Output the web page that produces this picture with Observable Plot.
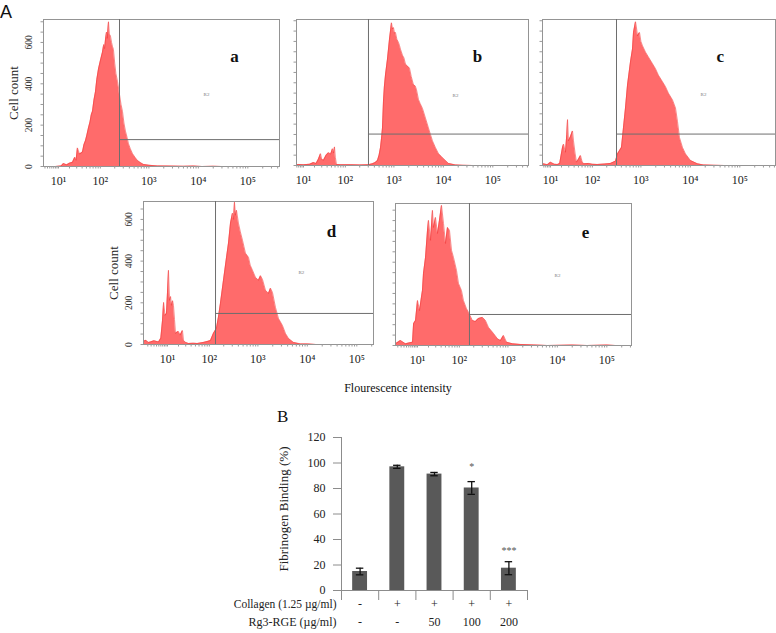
<!DOCTYPE html>
<html>
<head>
<meta charset="utf-8">
<script src="https://cdn.jsdelivr.net/npm/d3@7"></script>
<script src="https://cdn.jsdelivr.net/npm/@observablehq/plot@0.6"></script>
<style>
  html, body { margin: 0; padding: 0; background: #fff; }
  #root { position: relative; width: 776px; height: 633px; background: #fff; overflow: hidden; font-family: "Liberation Serif", "DejaVu Serif", serif; }
  .panel { position: absolute; }
  #overlay { position: absolute; left: 0; top: 0; pointer-events: none; }
</style>
</head>
<body>
<div id="root"></div>
<script>
// ---------------- DATA ----------------
// Flow cytometry histograms: [fluorescence intensity, cell count]
const histA = [[2.5,0],[8,0],[12,3],[13.9,14],[17,8],[20,16],[23.8,20],[27,45],[29,30],[31.2,90],[35,60],[40.8,70],[44,105],[47.6,124],[51,150],[55.5,186],[60,215],[64,250],[68,267],[73,320],[78.9,362],[84,420],[91.4,471],[100,510],[111,552],[118,590],[123,570],[128.5,614],[135,650],[140,620],[148.5,700],[155,640],[162.8,633],[172,600],[180,580],[188,567],[200,500],[212,450],[229,410],[240,380],[251,348],[270,300],[289,267],[310,210],[333,171],[360,140],[384,110],[420,85],[464,62],[520,45],[586,29],[680,18],[777,10],[1000,6],[1490,3],[2500,2],[5000,1],[8000,2],[12000,0],[20000,1],[30000,0],[436000,0]];
const histB = [[5.83,4],[6.9,5],[10,4],[15,6],[18.9,14],[22,10],[25,30],[28.1,57],[30,30],[33,25],[38,50],[43,62],[48,55],[52.8,81],[56,60],[58.4,90],[61,40],[64.6,5],[80,4],[128,4],[200,3],[303,4],[366,8],[420,15],[464,24],[500,50],[534,86],[560,130],[586,181],[614,310],[640,380],[675,438],[741,514],[814,610],[893,690],[940,660],[981,667],[1030,640],[1077,643],[1150,610],[1240,595],[1300,580],[1361,562],[1494,533],[1600,520],[1718,490],[1900,480],[2070,471],[2250,430],[2494,390],[2700,385],[2869,367],[3148,319],[3400,300],[3793,276],[4363,229],[5017,181],[5500,150],[6045,119],[6951,86],[7995,57],[9000,45],[10085,33],[12730,10],[17630,3],[24420,1],[40000,0],[526000,0]];
const histC = [[5.33,5],[5.8,8],[8,4],[10,16],[13,6],[15.8,5],[18,10],[21.2,87],[22.5,103],[25.1,64],[27,150],[28.1,222],[29.6,119],[33,140],[36.7,167],[38.7,119],[42,60],[45.3,16],[50,30],[55.5,48],[60,20],[64.6,8],[82.8,10],[100,6],[128,5],[180,7],[239,10],[303,21],[333,56],[402,87],[442,183],[486,278],[534,388],[614,500],[675,563],[707,643],[777,695],[820,660],[853,627],[937,643],[1000,600],[1077,579],[1240,548],[1425,524],[1718,492],[1975,468],[2272,436],[2737,405],[3148,381],[3619,349],[4363,317],[5017,278],[5500,214],[6045,135],[6951,87],[7995,56],[10085,24],[13970,8],[18460,3],[30000,1],[50000,0],[526000,0]];
const histD = [[-0.09,15],[0.5,20],[1.2,10],[1.8,12],[3,18],[4.9,12],[6,30],[6.9,115],[7.5,202],[8.4,140],[9.3,149],[10,250],[10.7,356],[11.5,212],[12.3,230],[13.1,188],[14,210],[14.8,188],[15.8,120],[16.8,53],[18.5,60],[20,62],[22,45],[25.1,67],[26.6,19],[30,10],[34.8,5],[45,6],[55.5,5],[75,10],[90,14],[105.9,19],[122,53],[141,77],[155,130],[171,197],[198,308],[229,418],[251,486],[276,582],[303,630],[320,600],[333,683],[350,620],[366,644],[402,582],[440,540],[486,500],[520,470],[559,438],[644,418],[700,380],[777,356],[893,322],[1028,308],[1130,330],[1240,312],[1425,260],[1640,245],[1800,270],[1975,250],[2272,178],[2612,125],[3148,91],[3619,53],[4165,29],[5260,10],[7285,3],[10085,3],[15000,0],[217400,0]];
const histE = [[0.39,8],[1.8,24],[3.6,8],[5,12],[6.9,16],[7.5,105],[8.7,120],[10,216],[11.5,168],[13,230],[13.9,264],[14.8,345],[16.8,423],[18.9,553],[20,601],[22.5,505],[25.1,649],[26.6,567],[29.6,615],[33,538],[36.7,601],[40.8,673],[45.3,586],[50.2,490],[55.5,567],[61.4,553],[68,457],[75,423],[87,361],[96,298],[111,264],[122,216],[141,178],[156,159],[188,120],[217,115],[251,130],[303,135],[349,120],[402,87],[509,58],[614,32],[707,24],[814,48],[937,16],[1240,8],[1800,5],[3300,3],[6335,0],[20000,2],[40000,0],[100000,2],[150000,0],[315000,0]];

const panelLetters = ["a", "b", "c", "d", "e"];
const gateX = [251, 303, 318, 135, 163];          // gate threshold (intensity)
const gateY = [130, 152, 152, 149, 149];          // marker line (count)
const xDomains = [[2.47, 436000], [5.83, 526000], [5.33, 526000], [-0.09, 217400], [0.39, 315000]];
const yMaxes = [711, 706, 706, 686, 682];
const letterPos = [[53600, 533], [49000, 528], [40500, 528], [30900, 543], [37000, 543]];
const r2Pos = [[14600, 348], [17630, 338], [18460, 343], [7600, 346], [10085, 337]];

const decadeTicks = [10, 100, 1000, 10000, 100000];
const decadeLabels = ["10¹", "10²", "10³", "10⁴", "10⁵"];
const countTicks = [0, 200, 400, 600];

// Bar chart (panel B)
const collagenRow = ["-", "+", "+", "+", "+"];
const rgeRow = ["-", "-", "50", "100", "200"];
const binding = [14.9, 97.0, 91.3, 80.4, 17.5];
const bindingErr = [2.6, 1.2, 1.3, 5.0, 5.1];
const signif = ["", "", "", "*", "***"];
const signifLevel = [0, 0, 0, 99, 33.4];
const bindingTicks = [0, 20, 40, 60, 80, 100, 120];

// ---------------- LAYOUT ----------------
const frames = [
  {L: 43, R: 279, T: 19, B: 166, yLabels: true},
  {L: 296, R: 528, T: 19, B: 165, yLabels: false},
  {L: 542, R: 775, T: 19, B: 165, yLabels: false},
  {L: 143, R: 373, T: 201, B: 344, yLabels: true},
  {L: 395, R: 631, T: 203, B: 345, yLabels: false}
];
const hists = [histA, histB, histC, histD, histE];
const root = document.getElementById("root");
const serif = "'Liberation Serif', 'DejaVu Serif', serif";

// minor ticks along the intensity axis
const minorTicks = [];
for (let k = 0; k <= 5; k++) for (let m = 1; m <= 9; m++) minorTicks.push(m * Math.pow(10, k));

hists.forEach((hist, i) => {
  const f = frames[i];
  const mL = 42, mR = 1, mT = 4, mB = 28;
  const W = f.R - f.L, H = f.B - f.T;
  const dom = xDomains[i];
  const yMax = yMaxes[i];
  const minors = minorTicks.filter(t => t > dom[0] && t < dom[1]);
  const marks = [
    Plot.areaY(hist, {x: d => d[0], y: d => d[1], fill: "#ff6b6b", curve: "linear"}),
    Plot.lineY(hist, {x: d => d[0], y: d => d[1], stroke: "#f23e3e", strokeWidth: 0.6}),
    Plot.frame({stroke: "#949494", strokeWidth: 1}),
    Plot.ruleX([gateX[i]], {stroke: "#6e6e6e", strokeWidth: 1}),
    Plot.ruleY([gateY[i]], {x1: gateX[i], x2: dom[1], stroke: "#6e6e6e", strokeWidth: 1}),
    Plot.axisX({ticks: minors, tickSize: 2.5, tickFormat: () => "", stroke: "#9a9a9a", label: null}),
    Plot.axisX({ticks: decadeTicks, tickSize: 0, tickPadding: 10, tickFormat: (d, j) => decadeLabels[j], fontSize: 12, fill: "#222", label: null}),
    Plot.axisY({ticks: d3.range(0, yMax, 50), tickSize: 2.5, tickFormat: () => "", stroke: "#9a9a9a", label: null}),
    Plot.text([letterPos[i]], {x: d => d[0], y: d => d[1], text: () => panelLetters[i], fontSize: 17, fontWeight: "bold", fill: "#111"}),
    Plot.text([r2Pos[i]], {x: d => d[0], y: d => d[1], text: () => "R2", fontSize: 5, fill: "#777"})
  ];
  if (f.yLabels) {
    marks.push(Plot.text(countTicks, {y: d => d, text: d => String(d), frameAnchor: "left", textAnchor: "middle", dx: -15, rotate: -90, fontSize: 9.5, fill: "#333"}));
    marks.push(Plot.text(["Cell count"], {text: d => d, frameAnchor: "left", textAnchor: "middle", dx: -30, rotate: -90, fontSize: 13, fill: "#222"}));
  }
  const svg = Plot.plot({
    width: W + mL + mR, height: H + mT + mB,
    marginLeft: mL, marginRight: mR, marginTop: mT, marginBottom: mB,
    x: {type: "symlog", constant: 5, domain: dom},
    y: {domain: [0, yMax]},
    style: {fontFamily: serif, background: "transparent", overflow: "visible"},
    marks
  });
  const div = document.createElement("div");
  div.className = "panel";
  div.style.left = (f.L - mL) + "px";
  div.style.top = (f.T - mT) + "px";
  div.appendChild(svg);
  root.appendChild(div);
});

// ---------------- BAR CHART ----------------
const idx = d3.range(binding.length);
const bounds = d3.range(-0.5, binding.length, 1);
const barMargins = {L: 121, R: 30, T: 36, B: 43};
const barSvg = Plot.plot({
  width: barMargins.L + 186 + barMargins.R,
  height: barMargins.T + 153 + barMargins.B,
  marginLeft: barMargins.L, marginRight: barMargins.R, marginTop: barMargins.T, marginBottom: barMargins.B,
  x: {type: "linear", domain: [-0.5, binding.length - 0.5]},
  y: {domain: [0, 120]},
  style: {fontFamily: serif, background: "transparent", overflow: "visible"},
  marks: [
    Plot.rectY(idx, {x1: i => i - 0.2, x2: i => i + 0.2, y1: 0, y2: i => binding[i], fill: "#595959"}),
    Plot.ruleX(idx, {x: i => i, y1: i => binding[i] - bindingErr[i], y2: i => binding[i] + bindingErr[i], stroke: "#111", strokeWidth: 1.3}),
    Plot.ruleY(idx, {y: i => binding[i] - bindingErr[i], x1: i => i - 0.1, x2: i => i + 0.1, stroke: "#111", strokeWidth: 1.3}),
    Plot.ruleY(idx, {y: i => binding[i] + bindingErr[i], x1: i => i - 0.1, x2: i => i + 0.1, stroke: "#111", strokeWidth: 1.3}),
    Plot.text(idx.filter(i => signif[i]), {x: i => i, y: i => signifLevel[i], text: i => signif[i], fontSize: 10, fill: "#555", dy: 3}),
    Plot.ruleX([-0.5], {stroke: "#8c8c8c"}),
    Plot.ruleY([0], {stroke: "#8c8c8c"}),
    Plot.axisX({ticks: bounds, tickSize: 10, tickFormat: () => "", stroke: "#8c8c8c", label: null}),
    Plot.axisY({ticks: bindingTicks, tickSize: 8, tickPadding: 8, fontSize: 12, stroke: "#8c8c8c", fill: "#222", label: null}),
    Plot.text(["Fibrinogen Binding (%)"], {text: d => d, frameAnchor: "left", textAnchor: "middle", dx: -58, dy: -5, rotate: -90, fontSize: 13, fill: "#222"}),
    Plot.text(idx, {x: i => i, text: i => collagenRow[i], frameAnchor: "bottom", textAnchor: "middle", dy: 17, fontSize: 12, fill: "#222"}),
    Plot.text(idx, {x: i => i, text: i => rgeRow[i], frameAnchor: "bottom", textAnchor: "middle", dy: 35, fontSize: 12, fill: "#222"}),
    Plot.text(["Collagen (1.25 µg/ml)"], {x: -0.5, text: d => d, frameAnchor: "bottom", dy: 17, dx: -5, textAnchor: "end", fontSize: 11.5, fill: "#222"}),
    Plot.text(["Rg3-RGE (µg/ml)"], {x: -0.5, text: d => d, frameAnchor: "bottom", dy: 35, dx: -5, textAnchor: "end", fontSize: 12, fill: "#222"})
  ]
});
const barDiv = document.createElement("div");
barDiv.className = "panel";
barDiv.style.left = (341 - barMargins.L) + "px";
barDiv.style.top = (437 - barMargins.T) + "px";
barDiv.appendChild(barSvg);
root.appendChild(barDiv);

// ---------------- PANEL TITLES ----------------
const ns = "http://www.w3.org/2000/svg";
const ov = document.createElementNS(ns, "svg");
ov.setAttribute("id", "overlay");
ov.setAttribute("width", 776);
ov.setAttribute("height", 633);
function addText(txt, x, y, size, family, anchor) {
  const t = document.createElementNS(ns, "text");
  t.setAttribute("x", x); t.setAttribute("y", y);
  t.setAttribute("font-size", size);
  t.setAttribute("font-family", family);
  t.setAttribute("text-anchor", anchor || "start");
  t.setAttribute("fill", "#111");
  t.textContent = txt;
  ov.appendChild(t);
}
addText("A", 0, 18, 18, "'Liberation Sans', Arial, sans-serif");
addText("B", 277, 422, 17, serif);
addText("Flourescence intensity", 398, 392, 12, serif, "middle");
root.appendChild(ov);
</script>
</body>
</html>
